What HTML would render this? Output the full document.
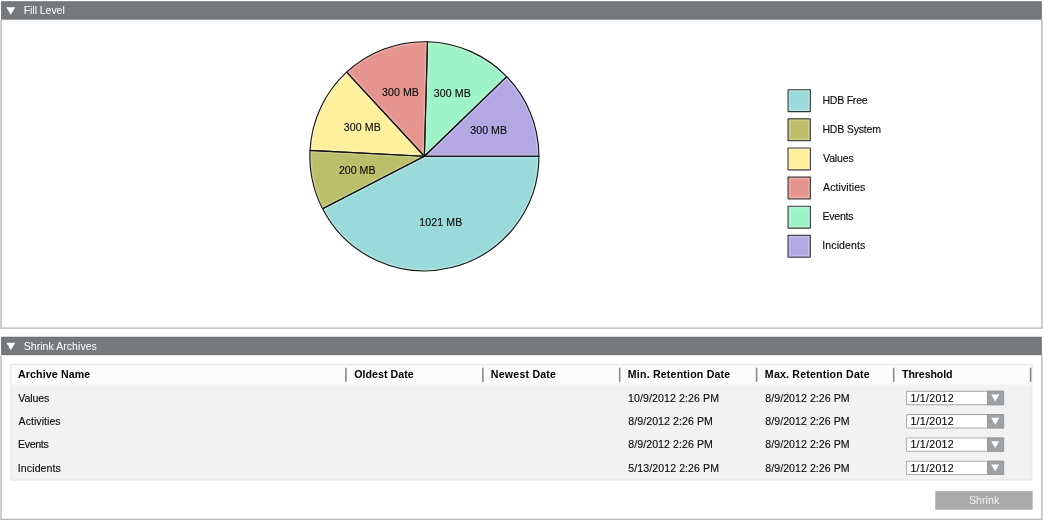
<!DOCTYPE html>
<html><head><meta charset="utf-8"><title>Archive</title>
<style>
html,body{margin:0;padding:0;background:#fff;}
body{width:1044px;height:521px;position:relative;overflow:hidden;font-family:"Liberation Sans",sans-serif;font-size:10.6px;color:#111;}
div{position:absolute;box-sizing:border-box;}
.x{white-space:nowrap;line-height:14px;font-size:10.6px;}
.w{color:#fff;}
#btn{color:#f3f3f3;}
.b{font-weight:bold;color:#000;}
.t{color:#0a0a0a;-webkit-text-stroke:0.12px #0a0a0a;}
</style></head><body>
<svg style="position:absolute;left:0;top:0" width="1044" height="521" viewBox="0 0 1044 521">
<path d="M1.05,19.7 V328.1 H1041.9 V19.7" fill="none" stroke="#b6b6b6" stroke-width="1.35"/>
<path d="M1.05,355.3 V519.3 H1041.9 V355.3" fill="none" stroke="#b6b6b6" stroke-width="1.35"/>
<rect x="1.20" y="1.25" width="1040.60" height="18.40" fill="#6b6f72" />
<rect x="1.20" y="2.25" width="1039.70" height="16.40" fill="#75797c" />
<path d="M6.30,7.20 h9.00 l-4.50,7.50 Z" fill="#fff"/>
<rect x="1.20" y="336.75" width="1040.60" height="18.40" fill="#6b6f72" />
<rect x="1.20" y="337.75" width="1039.70" height="16.40" fill="#75797c" />
<path d="M6.30,342.70 h9.00 l-4.50,7.50 Z" fill="#fff"/>
<rect x="787.5" y="89.15" width="23.4" height="23.0" rx="0.8" fill="#303030"/>
<rect x="788.60" y="90.25" width="21.20" height="20.80" fill="#9adada" />
<rect x="789.5" y="91.15" width="19.4" height="19.0" fill="none" stroke="#fff" stroke-opacity="0.2" stroke-width="1.8"/>
<rect x="787.5" y="118.27" width="23.4" height="23.0" rx="0.8" fill="#303030"/>
<rect x="788.60" y="119.37" width="21.20" height="20.80" fill="#bcbf69" />
<rect x="789.5" y="120.27" width="19.4" height="19.0" fill="none" stroke="#fff" stroke-opacity="0.2" stroke-width="1.8"/>
<rect x="787.5" y="147.39" width="23.4" height="23.0" rx="0.8" fill="#303030"/>
<rect x="788.60" y="148.49" width="21.20" height="20.80" fill="#fff09e" />
<rect x="789.5" y="149.39" width="19.4" height="19.0" fill="none" stroke="#fff" stroke-opacity="0.2" stroke-width="1.8"/>
<rect x="787.5" y="176.51" width="23.4" height="23.0" rx="0.8" fill="#303030"/>
<rect x="788.60" y="177.61" width="21.20" height="20.80" fill="#e6958e" />
<rect x="789.5" y="178.51" width="19.4" height="19.0" fill="none" stroke="#fff" stroke-opacity="0.2" stroke-width="1.8"/>
<rect x="787.5" y="205.63" width="23.4" height="23.0" rx="0.8" fill="#303030"/>
<rect x="788.60" y="206.73" width="21.20" height="20.80" fill="#9ef4c6" />
<rect x="789.5" y="207.63" width="19.4" height="19.0" fill="none" stroke="#fff" stroke-opacity="0.2" stroke-width="1.8"/>
<rect x="787.5" y="234.75" width="23.4" height="23.0" rx="0.8" fill="#303030"/>
<rect x="788.60" y="235.85" width="21.20" height="20.80" fill="#b3a8e4" />
<rect x="789.5" y="236.75" width="19.4" height="19.0" fill="none" stroke="#fff" stroke-opacity="0.2" stroke-width="1.8"/>
<rect x="10.40" y="363.90" width="1022.20" height="116.60" fill="#e3e3e3" />
<rect x="11.40" y="364.90" width="1020.20" height="114.60" fill="#f2f2f2" />
<rect x="11.40" y="364.90" width="1020.20" height="19.30" fill="#fcfcfc" />
<rect x="11.40" y="384.20" width="1020.20" height="1.00" fill="#f8f8f8" />
<rect x="345.10" y="367.70" width="1.60" height="14.10" fill="#888" />
<rect x="482.10" y="367.70" width="1.60" height="14.10" fill="#888" />
<rect x="618.90" y="367.70" width="1.60" height="14.10" fill="#888" />
<rect x="755.80" y="367.70" width="1.60" height="14.10" fill="#888" />
<rect x="892.90" y="367.70" width="1.60" height="14.10" fill="#888" />
<rect x="1029.80" y="367.70" width="1.60" height="14.10" fill="#888" />
<rect x="906.1" y="390.80" width="98" height="14.4" rx="1.2" fill="#a4a8aa"/>
<rect x="907.10" y="391.80" width="79.90" height="12.40" fill="#fff" />
<path d="M987.0,390.80 H1002.9 Q1004.1,390.80 1004.1,392.00 V404.00 Q1004.1,405.20 1002.9,405.20 H987.0 Z" fill="#92979a"/>
<rect x="987.60" y="391.60" width="15.70" height="12.80" fill="#9ea2a4" />
<path d="M991.20,394.55 h8.10 l-4.05,6.90 Z" fill="#fff"/>
<rect x="906.1" y="414.10" width="98" height="14.4" rx="1.2" fill="#a4a8aa"/>
<rect x="907.10" y="415.10" width="79.90" height="12.40" fill="#fff" />
<path d="M987.0,414.10 H1002.9 Q1004.1,414.10 1004.1,415.30 V427.30 Q1004.1,428.50 1002.9,428.50 H987.0 Z" fill="#92979a"/>
<rect x="987.60" y="414.90" width="15.70" height="12.80" fill="#9ea2a4" />
<path d="M991.20,417.85 h8.10 l-4.05,6.90 Z" fill="#fff"/>
<rect x="906.1" y="437.40" width="98" height="14.4" rx="1.2" fill="#a4a8aa"/>
<rect x="907.10" y="438.40" width="79.90" height="12.40" fill="#fff" />
<path d="M987.0,437.40 H1002.9 Q1004.1,437.40 1004.1,438.60 V450.60 Q1004.1,451.80 1002.9,451.80 H987.0 Z" fill="#92979a"/>
<rect x="987.60" y="438.20" width="15.70" height="12.80" fill="#9ea2a4" />
<path d="M991.20,441.15 h8.10 l-4.05,6.90 Z" fill="#fff"/>
<rect x="906.1" y="460.70" width="98" height="14.4" rx="1.2" fill="#a4a8aa"/>
<rect x="907.10" y="461.70" width="79.90" height="12.40" fill="#fff" />
<path d="M987.0,460.70 H1002.9 Q1004.1,460.70 1004.1,461.90 V473.90 Q1004.1,475.10 1002.9,475.10 H987.0 Z" fill="#92979a"/>
<rect x="987.60" y="461.50" width="15.70" height="12.80" fill="#9ea2a4" />
<path d="M991.20,464.45 h8.10 l-4.05,6.90 Z" fill="#fff"/>
<rect x="935.30" y="491.20" width="97.30" height="18.50" fill="#a6a6a6" />
<rect x="936.30" y="492.20" width="95.30" height="16.50" fill="#ababab" />
<defs><clipPath id="k0"><path d="M424.40,156.25 L538.95,156.25 A114.55,114.55 0 0 1 322.58,208.74 Z"/></clipPath><clipPath id="k1"><path d="M424.40,156.25 L322.58,208.74 A114.55,114.55 0 0 1 310.00,150.37 Z"/></clipPath><clipPath id="k2"><path d="M424.40,156.25 L310.00,150.37 A114.55,114.55 0 0 1 346.57,72.20 Z"/></clipPath><clipPath id="k3"><path d="M424.40,156.25 L346.57,72.20 A114.55,114.55 0 0 1 427.50,41.74 Z"/></clipPath><clipPath id="k4"><path d="M424.40,156.25 L427.50,41.74 A114.55,114.55 0 0 1 506.69,76.56 Z"/></clipPath><clipPath id="k5"><path d="M424.40,156.25 L506.69,76.56 A114.55,114.55 0 0 1 538.95,156.25 Z"/></clipPath></defs>
<path d="M424.40,156.25 L538.95,156.25 A114.55,114.55 0 0 1 322.58,208.74 Z" fill="#9adada"/>
<path d="M424.40,156.25 L322.58,208.74 A114.55,114.55 0 0 1 310.00,150.37 Z" fill="#bcbf69"/>
<path d="M424.40,156.25 L310.00,150.37 A114.55,114.55 0 0 1 346.57,72.20 Z" fill="#fff09e"/>
<path d="M424.40,156.25 L346.57,72.20 A114.55,114.55 0 0 1 427.50,41.74 Z" fill="#e6958e"/>
<path d="M424.40,156.25 L427.50,41.74 A114.55,114.55 0 0 1 506.69,76.56 Z" fill="#9ef4c6"/>
<path d="M424.40,156.25 L506.69,76.56 A114.55,114.55 0 0 1 538.95,156.25 Z" fill="#b3a8e4"/>
<path d="M424.40,156.25 L538.95,156.25 A114.55,114.55 0 0 1 322.58,208.74 Z" fill="none" stroke="#fff" stroke-opacity="0.2" stroke-width="4.4" clip-path="url(#k0)"/>
<path d="M424.40,156.25 L322.58,208.74 A114.55,114.55 0 0 1 310.00,150.37 Z" fill="none" stroke="#fff" stroke-opacity="0.2" stroke-width="4.4" clip-path="url(#k1)"/>
<path d="M424.40,156.25 L310.00,150.37 A114.55,114.55 0 0 1 346.57,72.20 Z" fill="none" stroke="#fff" stroke-opacity="0.2" stroke-width="4.4" clip-path="url(#k2)"/>
<path d="M424.40,156.25 L346.57,72.20 A114.55,114.55 0 0 1 427.50,41.74 Z" fill="none" stroke="#fff" stroke-opacity="0.2" stroke-width="4.4" clip-path="url(#k3)"/>
<path d="M424.40,156.25 L427.50,41.74 A114.55,114.55 0 0 1 506.69,76.56 Z" fill="none" stroke="#fff" stroke-opacity="0.2" stroke-width="4.4" clip-path="url(#k4)"/>
<path d="M424.40,156.25 L506.69,76.56 A114.55,114.55 0 0 1 538.95,156.25 Z" fill="none" stroke="#fff" stroke-opacity="0.2" stroke-width="4.4" clip-path="url(#k5)"/>
<g fill="none" stroke="#151515" stroke-width="1.12" stroke-linejoin="round"><path d="M424.40,156.25 L538.95,156.25 A114.55,114.55 0 0 1 322.58,208.74 Z"/>
<path d="M424.40,156.25 L322.58,208.74 A114.55,114.55 0 0 1 310.00,150.37 Z"/>
<path d="M424.40,156.25 L310.00,150.37 A114.55,114.55 0 0 1 346.57,72.20 Z"/>
<path d="M424.40,156.25 L346.57,72.20 A114.55,114.55 0 0 1 427.50,41.74 Z"/>
<path d="M424.40,156.25 L427.50,41.74 A114.55,114.55 0 0 1 506.69,76.56 Z"/>
<path d="M424.40,156.25 L506.69,76.56 A114.55,114.55 0 0 1 538.95,156.25 Z"/></g>
</svg>
<div id="h1" class="x w" style="left:23.71px;top:3.00px;letter-spacing:-0.082px">Fill Level</div>
<div id="h2" class="x w" style="left:23.65px;top:339.00px;letter-spacing:0.019px">Shrink Archives</div>
<div id="c0" class="x b" style="left:18.02px;top:367.00px;letter-spacing:0.132px">Archive Name</div>
<div id="c1" class="x b" style="left:354.15px;top:367.00px;letter-spacing:0.069px">Oldest Date</div>
<div id="c2" class="x b" style="left:490.86px;top:367.00px;letter-spacing:0.214px">Newest Date</div>
<div id="c3" class="x b" style="left:627.85px;top:367.00px;letter-spacing:0.193px">Min. Retention Date</div>
<div id="c4" class="x b" style="left:764.86px;top:367.00px;letter-spacing:0.194px">Max. Retention Date</div>
<div id="c5" class="x b" style="left:902.00px;top:367.00px;letter-spacing:-0.082px">Threshold</div>
<div id="n0" class="x t" style="left:18.23px;top:391.00px;letter-spacing:-0.099px">Values</div>
<div id="m0" class="x t" style="left:628.05px;top:391.00px;letter-spacing:0.094px">10/9/2012 2:26 PM</div>
<div id="x0" class="x t" style="left:765.28px;top:391.00px;letter-spacing:0.048px">8/9/2012 2:26 PM</div>
<div id="d0" class="x t" style="left:910.45px;top:391.00px;letter-spacing:0.278px">1/1/2012</div>
<div id="n1" class="x t" style="left:18.56px;top:414.00px;letter-spacing:0.029px">Activities</div>
<div id="m1" class="x t" style="left:628.31px;top:414.00px;letter-spacing:0.062px">8/9/2012 2:26 PM</div>
<div id="x1" class="x t" style="left:765.28px;top:414.00px;letter-spacing:0.048px">8/9/2012 2:26 PM</div>
<div id="d1" class="x t" style="left:910.45px;top:414.00px;letter-spacing:0.278px">1/1/2012</div>
<div id="n2" class="x t" style="left:17.88px;top:437.00px;letter-spacing:-0.295px">Events</div>
<div id="m2" class="x t" style="left:628.31px;top:437.00px;letter-spacing:0.062px">8/9/2012 2:26 PM</div>
<div id="x2" class="x t" style="left:765.28px;top:437.00px;letter-spacing:0.048px">8/9/2012 2:26 PM</div>
<div id="d2" class="x t" style="left:910.45px;top:437.00px;letter-spacing:0.278px">1/1/2012</div>
<div id="n3" class="x t" style="left:17.84px;top:461.00px;letter-spacing:0.083px">Incidents</div>
<div id="m3" class="x t" style="left:628.34px;top:461.00px;letter-spacing:0.074px">5/13/2012 2:26 PM</div>
<div id="x3" class="x t" style="left:765.28px;top:461.00px;letter-spacing:0.048px">8/9/2012 2:26 PM</div>
<div id="d3" class="x t" style="left:910.45px;top:461.00px;letter-spacing:0.278px">1/1/2012</div>
<div id="l0" class="x t" style="left:822.41px;top:93.00px;letter-spacing:-0.265px">HDB Free</div>
<div id="l1" class="x t" style="left:822.41px;top:122.00px;letter-spacing:-0.219px">HDB System</div>
<div id="l2" class="x t" style="left:823.05px;top:151.00px;letter-spacing:-0.180px">Values</div>
<div id="l3" class="x t" style="left:823.12px;top:180.00px;letter-spacing:0.054px">Activities</div>
<div id="l4" class="x t" style="left:822.41px;top:209.00px;letter-spacing:-0.240px">Events</div>
<div id="l5" class="x t" style="left:822.24px;top:238.00px;letter-spacing:0.098px">Incidents</div>
<div id="btn" class="x w" style="left:968.97px;top:493.00px;letter-spacing:0.045px">Shrink</div>
<div id="p0" class="x t" style="left:419.31px;top:215.00px;letter-spacing:0.107px">1021 MB</div>
<div id="p1" class="x t" style="left:338.90px;top:163.00px;letter-spacing:0.025px">200 MB</div>
<div id="p2" class="x t" style="left:343.81px;top:120.00px;letter-spacing:0.104px">300 MB</div>
<div id="p3" class="x t" style="left:382.01px;top:85.00px;letter-spacing:0.067px">300 MB</div>
<div id="p4" class="x t" style="left:433.85px;top:86.00px;letter-spacing:0.099px">300 MB</div>
<div id="p5" class="x t" style="left:470.24px;top:123.00px;letter-spacing:0.060px">300 MB</div>
</body></html>
